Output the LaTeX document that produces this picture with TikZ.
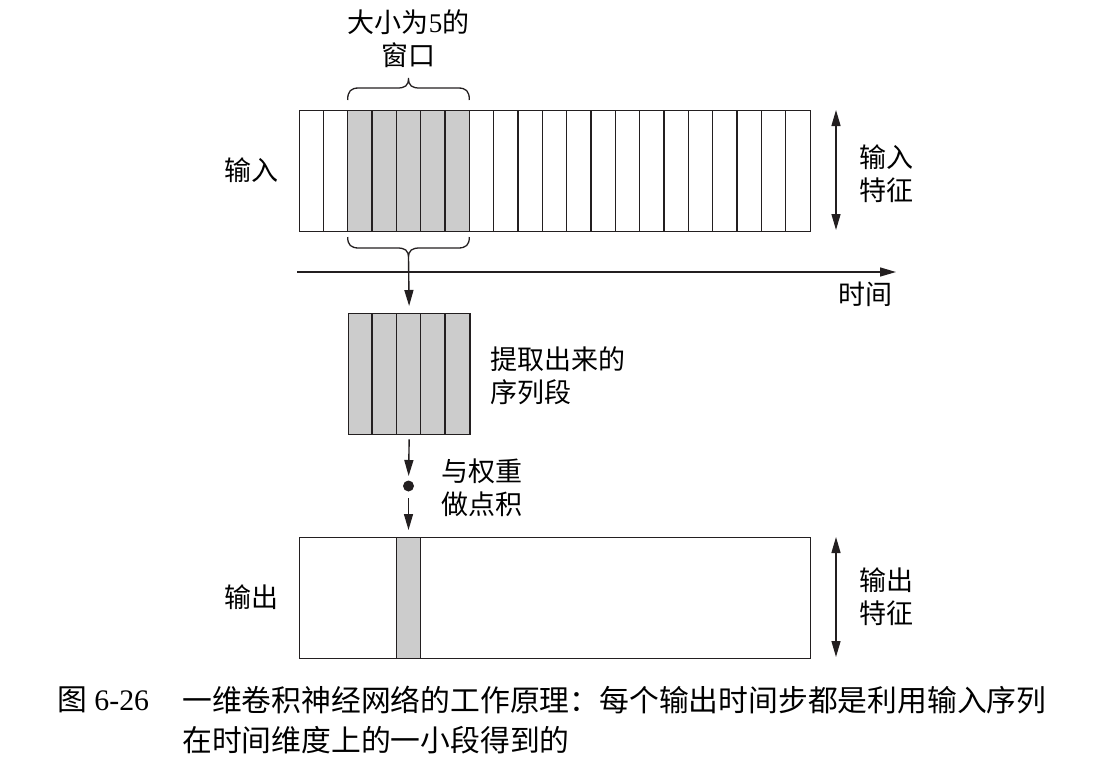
\documentclass[tikz,border=0pt]{standalone}
\usepackage{fontspec}
\setmainfont{Liberation Serif}
\newfontfamily\cjk{Noto Sans CJK SC}
\usetikzlibrary{arrows.meta}
\definecolor{ink}{HTML}{231F20}
\definecolor{cellgray}{HTML}{CCCCCC}
\tikzset{
  lbl/.style={inner sep=0pt, font=\cjk\fontsize{27}{33}\selectfont},
  caplbl/.style={inner sep=0pt, font=\fontsize{29.8}{40}\selectfont},
  band/.style={draw=ink, line width=1.4pt, inner sep=0pt, anchor=north west},
  cellline/.style={draw=ink, line width=1.2pt},
  bracket/.style={draw=ink, line width=1.3pt},
  flow/.style={draw=ink, line width=1.4pt, -{Triangle[length=16pt,width=9pt]}},
  span/.style={draw=ink, line width=1.4pt, {Triangle[length=16pt,width=9pt]}-{Triangle[length=16pt,width=9pt]}}
}
\begin{document}
\begin{tikzpicture}[x=1pt, y=-1pt]
\useasboundingbox (0,0) rectangle (1110,766);
\def\cw{24.3333}

% input sequence: 21 time steps, a 5-step window shaded
\fill[cellgray] (299+2*\cw,110) rectangle (299+7*\cw,231);
\foreach \i in {1,...,20} \draw[cellline] (299+\i*\cw,110) -- (299+\i*\cw,231);
\node[band, minimum width=511pt, minimum height=121pt] (inbox) at (299,110) {};

% window label and brace above
\node[lbl, align=center] (winlbl) at (408.5,38.5) {大小为{\rmfamily 5}的\\窗口};
\draw[bracket] (299+2*\cw,100) .. controls (299+2*\cw,91) and (351,88) .. (359,88) -- (397,88)
  .. controls (405,88) and (408.5,86) .. (408.5,78)
  .. controls (408.5,86) and (412,88) .. (420,88) -- (458,88)
  .. controls (466,88) and (299+7*\cw,91) .. (299+7*\cw,100);

% brace below the window
\coordinate (bt) at (408.5,258);
\draw[bracket] (299+2*\cw,237) .. controls (299+2*\cw,245) and (351,248) .. (359,248) -- (397,248)
  .. controls (405,248) and (408.5,250) .. (bt)
  .. controls (408.5,250) and (412,248) .. (420,248) -- (458,248)
  .. controls (466,248) and (299+7*\cw,245) .. (299+7*\cw,237);

% time axis
\coordinate (ta) at (297,272);
\coordinate (tb) at (896,272);
\draw[flow] (ta) -- (tb);
\node[lbl] (timelbl) at (865,294) {时间};

% extracted segment
\node[band, fill=cellgray, minimum width=5*\cw pt, minimum height=121pt] (seg) at (299+2*\cw,313) {};
\foreach \i in {1,...,4} \draw[cellline] (299+2*\cw+\i*\cw,313) -- (299+2*\cw+\i*\cw,434);
\node[lbl, align=left, anchor=west] (seglbl) at (490,376) {提取出来的\\序列段};

\draw[flow, shorten >=7pt] (bt) -- (seg.north);

% dot product
\node[circle, fill=ink, minimum size=11pt, inner sep=0pt] (dot) at (408.5,486) {};
\node[lbl, align=left, anchor=west] (dotlbl) at (441,488) {与权重\\做点积};
\draw[flow, shorten <=4pt, shorten >=10pt] (seg.south) -- (dot.center);
\draw[flow, shorten <=12pt, shorten >=7pt] (dot.center) -- (408.5,537);

% output sequence
\fill[cellgray] (299+4*\cw,537) rectangle (299+5*\cw,658);
\draw[cellline] (299+4*\cw,537) -- (299+4*\cw,658);
\draw[cellline] (299+5*\cw,537) -- (299+5*\cw,658);
\node[band, minimum width=511pt, minimum height=121pt] (outbox) at (299,537) {};

% side labels and feature-axis arrows
\node[lbl] (inlbl) at (251,170) {输入};
\node[lbl] (outlbl) at (251,597) {输出};
\coordinate (ia) at (836,110);
\coordinate (ib) at (836,230);
\draw[span] (ia) -- (ib);
\node[lbl, align=left, anchor=west] (infeat) at (859,174) {输入\\特征};
\coordinate (oa) at (836,537);
\coordinate (ob) at (836,657);
\draw[span] (oa) -- (ob);
\node[lbl, align=left, anchor=west] (outfeat) at (859,597) {输出\\特征};

% caption
\node[caplbl, anchor=west] (capno) at (57,700) {{\cjk 图} 6-26};
\node[caplbl, align=left, anchor=west, font=\cjk\fontsize{29.8}{40}\selectfont] (captext) at (182,720)
  {一维卷积神经网络的工作原理：每个输出时间步都是利用输入序列\\在时间维度上的一小段得到的};
\end{tikzpicture}
\end{document}
